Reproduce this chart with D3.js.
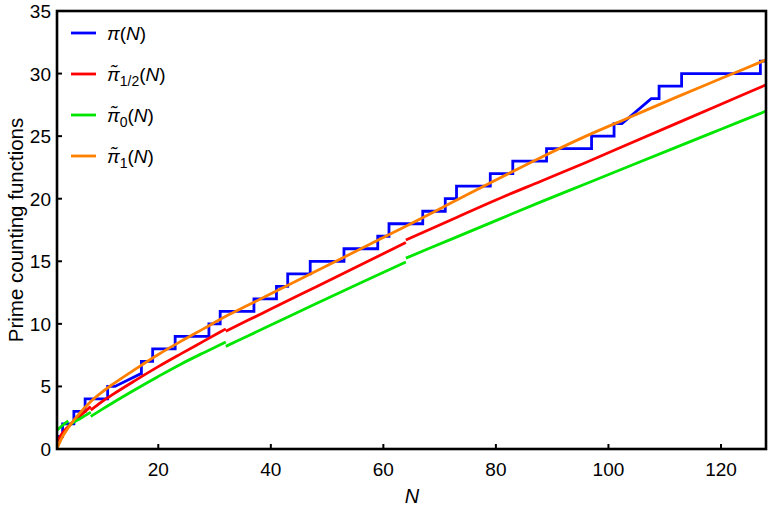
<!DOCTYPE html>
<html><head><meta charset="utf-8">
<script src="https://cdn.jsdelivr.net/npm/d3@7"></script>
<style>body{margin:0;background:#fff}text{font-family:"Liberation Sans",Arial,sans-serif}</style>
</head><body>
<svg id="c" width="768" height="506"></svg>
<script>
// ---- data ----
const primes   = [2,3,5,7,11,13,17,19,23,29,31,37,41,43,47,53,59,61,67,71,73,79,83,89,97,101,103,107,109,113,127];
const piValues = [1,2,3,4,5,6,7,8,9,10,11,12,13,14,15,16,17,18,19,20,21,22,23,24,25,26,27,28,29,30,31];
const nMax = 128;
// intervals where the plotted step curve is drawn as a straight (under-sampled) segment
const sampledGaps = [[12.3,16.8],[102.4,107.6]];
// smooth approximations (repeated N = jump)
const piTildeHalf = [[2,0.6],[3,1.3],[4,1.8],[6,2.6],[8,3.4],[8,3.1],[10,3.78],[12,4.38],[16,5.5],[20,6.58],[24,7.6],[28,8.6],[32,9.6],[32,9.4],[36,10.3],[40,11.18],[48,12.95],[56,14.72],[64,16.5],[64,16.7],[72,18.3],[80,19.9],[88,21.4],[96,22.9],[104,24.45],[112,26.0],[120,27.55],[128,29.1]];
const piTilde0 = [[2,1.5],[3,1.9],[4,2.25],[4,1.85],[5,2.15],[6,2.4],[8,2.95],[8,2.6],[10,3.17],[12,3.72],[16,4.78],[20,5.8],[24,6.78],[28,7.68],[32,8.55],[32,8.2],[36,9.05],[40,9.9],[48,11.6],[56,13.28],[64,14.95],[64,15.25],[72,16.75],[80,18.25],[88,19.75],[96,21.2],[104,22.65],[112,24.1],[120,25.55],[128,27.0]];
const piTilde1 = [[2,0.05],[3,1.0],[4,1.7],[5,2.3],[6,2.85],[8,3.8],[10,4.55],[12,5.2],[16,6.4],[20,7.55],[24,8.6],[28,9.6],[32,10.6],[36,11.5],[40,12.4],[48,14.2],[56,16.0],[64,17.8],[72,19.65],[80,21.5],[88,23.3],[96,25.0],[104,26.55],[112,28.1],[120,29.6],[128,31.1]];
const xTicks = [20,40,60,80,100,120];
const yTicks = [0,5,10,15,20,25,30,35];
const legendNames = ["pi","half","zero","one"];

// ---- chart ----
const svg = d3.select("#c");
const L=57, R=766, T=11, B=449;
const x = d3.scaleLinear().domain([2,128]).range([L,R]);
const y = d3.scaleLinear().domain([0,35]).range([B,T]);

svg.append("clipPath").attr("id","clip").append("rect")
  .attr("x",L).attr("y",T).attr("width",R-L).attr("height",B-T);
const g = svg.append("g").attr("clip-path","url(#clip)");

function segments(data){
  const segs=[[]];
  data.forEach((d,i)=>{
    if(i>0 && d[0]===data[i-1][0]) segs.push([]);
    segs[segs.length-1].push(d);
  });
  return segs;
}
const smooth = d3.line().x(d=>x(d[0])).y(d=>y(d[1])).curve(d3.curveMonotoneX);
const straight = d3.line().x(d=>x(d[0])).y(d=>y(d[1]));

function drawSeries(data,color){
  segments(data).forEach(s=>{
    g.append("path").attr("d",smooth(s)).attr("fill","none")
     .attr("stroke",color).attr("stroke-width",2.8).attr("stroke-linejoin","round");
  });
}

// step function pi(N) vertices
function piAt(n){ let c=0; primes.forEach((p,i)=>{ if(p<=n) c=piValues[i]; }); return c; }
let verts=[];
primes.forEach((p,i)=>{
  if(i>0) verts.push([p,piValues[i-1]]);
  verts.push([p,piValues[i]]);
});
verts.push([nMax,piValues[piValues.length-1]]);
sampledGaps.forEach(([a,b])=>{
  const before = verts.filter(v=>v[0]<=a);
  const after  = verts.filter(v=>v[0]>b);
  verts = before.concat([[a,piAt(a)],[b,piAt(b)]], after);
});
g.append("path").attr("d",straight(verts))
  .attr("fill","none").attr("stroke","#0000ff").attr("stroke-width",2.8).attr("stroke-linejoin","miter");

drawSeries(piTildeHalf,"#ff0000");
drawSeries(piTilde0,"#00e600");
drawSeries(piTilde1,"#ff8000");

// frame
svg.append("rect").attr("x",L).attr("y",T).attr("width",R-L).attr("height",B-T)
  .attr("fill","none").attr("stroke","#000").attr("stroke-width",2.6);

// ticks
const ax = svg.append("g");
xTicks.forEach(t=>{
  ax.append("line").attr("x1",x(t)).attr("x2",x(t)).attr("y1",B).attr("y2",B-5).attr("stroke","#000").attr("stroke-width",2);
  ax.append("text").attr("x",x(t)).attr("y",B+27).attr("text-anchor","middle").attr("font-size",19).text(t);
});
yTicks.forEach(t=>{
  ax.append("line").attr("x1",L).attr("x2",L+5).attr("y1",y(t)).attr("y2",y(t)).attr("stroke","#000").attr("stroke-width",2);
  ax.append("text").attr("x",L-6).attr("y",y(t)+7).attr("text-anchor","end").attr("font-size",19).text(t);
});

svg.append("text").attr("x",412).attr("y",503).attr("text-anchor","middle")
  .attr("font-size",20).attr("font-style","italic").text("N");
svg.append("text").attr("transform","translate(23,230) rotate(-90)").attr("text-anchor","middle")
  .attr("font-size",20.5).text("Prime counting functions");

// legend
const legColors = ["#0000ff","#ff0000","#00e600","#ff8000"];
const legSubs = [null,"1/2","0","1"];
legendNames.forEach((n,i)=>{
  const yy = 33 + i*41;
  svg.append("line").attr("x1",71).attr("x2",96).attr("y1",yy).attr("y2",yy)
    .attr("stroke",legColors[i]).attr("stroke-width",2.8);
  const t = svg.append("text").attr("x",107).attr("y",yy+7).attr("font-size",19);
  t.append("tspan").attr("font-style","italic").text(i===0?"π":"π\u0303");
  if(legSubs[i]) t.append("tspan").attr("font-size",14).attr("dy",5).text(legSubs[i]);
  t.append("tspan").attr("dy",legSubs[i]?-5:0).text("(");
  t.append("tspan").attr("font-style","italic").text("N");
  t.append("tspan").text(")");
});
</script>
</body></html>
